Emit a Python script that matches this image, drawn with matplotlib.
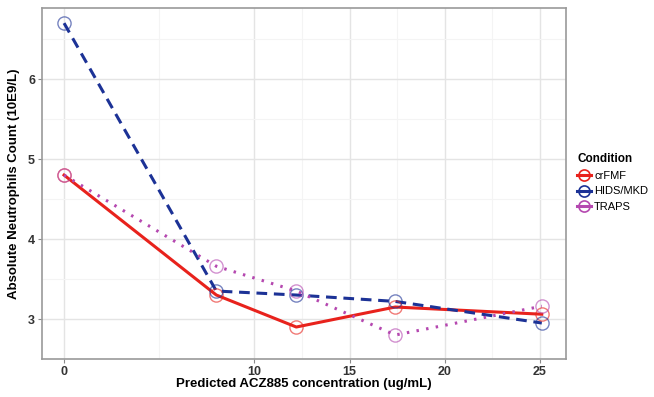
import numpy as np
import matplotlib.pyplot as plt
from matplotlib.lines import Line2D

plt.rcParams['font.family'] = ['Liberation Sans', 'DejaVu Sans']

conc = [0, 8.0, 12.2, 17.4, 25.1]
crfmf = [4.80, 3.30, 2.90, 3.15, 3.06]
hids = [6.70, 3.35, 3.30, 3.22, 2.95]
traps = [4.80, 3.66, 3.35, 2.80, 3.16]

names = ['crFMF', 'HIDS/MKD', 'TRAPS']
colors = ['#e8221c', '#1c3296', '#b548b0']
styles = ['-', (0, (3.5, 2.2)), (0, (0.8, 2.4))]
series = [crfmf, hids, traps]

fig = plt.figure(figsize=(6.54, 3.97), dpi=100)
ax = fig.add_axes([0.0642, 0.0957, 0.8012, 0.8843])

for y, c, ls in zip(series, colors, styles):
    ax.plot(conc, y, color=c, lw=2.2, ls=ls, zorder=3)
    ax.plot(conc, y, ls='none', marker='o', ms=9.5, mfc='none',
            mec=c, mew=1.0, alpha=0.6, zorder=4)

ax.set_xlim(-1.16, 26.37)
ax.set_ylim(2.61, 6.89)
ax.set_xticks([0, 10, 15, 20, 25])
ax.set_xticks([5, 12.5, 17.5, 22.5], minor=True)
ax.set_yticks([3, 4, 5, 6])
ax.set_yticks([2.5, 3.5, 4.5, 5.5, 6.5], minor=True)
ax.grid(which='major', color='#e4e4e4', lw=1.0)
ax.grid(which='minor', color='#f4f4f4', lw=0.8)
ax.set_axisbelow(True)
for s in ax.spines.values():
    s.set_color('#9a9a9a')
    s.set_linewidth(1.2)
ax.tick_params(which='major', length=3, color='#8a8a8a', labelsize=9,
               labelcolor='#333333', pad=2)
ax.tick_params(which='minor', length=0)
for lab in ax.get_xticklabels() + ax.get_yticklabels():
    lab.set_fontweight('bold')

ax.set_xlabel('Predicted ACZ885 concentration (ug/mL)', fontsize=9.5,
              fontweight='bold', labelpad=0)
ax.set_ylabel('Absolute Neutrophils Count (10E9/L)', fontsize=9.5,
              fontweight='bold', labelpad=6)

handles = [Line2D([], [], color=c, lw=2.2, marker='o', ms=8, mfc='none',
                  mec=c, mew=1.2) for c in colors]
leg = fig.legend(handles, names, title='Condition', loc='upper left',
                 bbox_to_anchor=(0.876, 0.625), frameon=False, fontsize=8,
                 title_fontsize=8.5, handlelength=1.2, handletextpad=0.3,
                 labelspacing=0.5, borderaxespad=0)
leg.get_title().set_fontweight('bold')
leg._legend_box.align = 'left'

fig.savefig('out.png', dpi=100)
